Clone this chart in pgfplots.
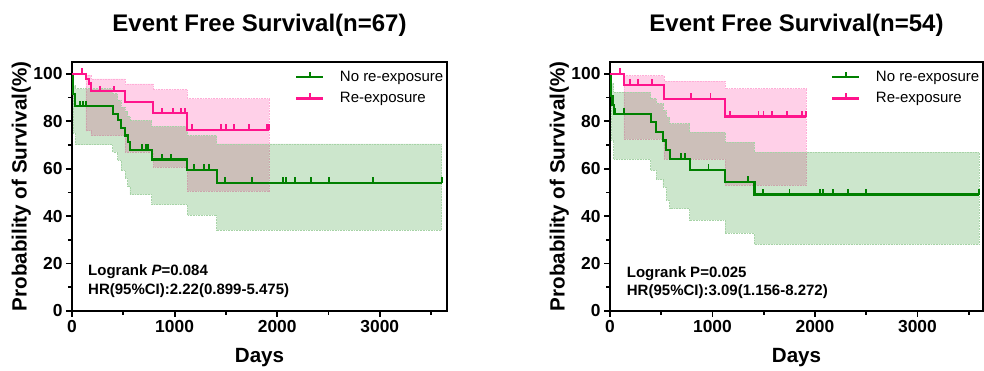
\documentclass[border=0pt]{standalone}
\usepackage{fontspec}
\setmainfont{Liberation Sans}
\usepackage{pgfplots}
\pgfplotsset{compat=1.18}
\definecolor{gline}{RGB}{0,128,0}
\definecolor{pline}{RGB}{255,20,140}
\pgfdeclareplotmark{cens}{\pgfpathmoveto{\pgfqpoint{0pt}{0pt}}\pgfpathlineto{\pgfqpoint{0pt}{\pgfplotmarksize}}\pgfusepathqstroke}
\pgfplotsset{
  km/.style={
    scale only axis, height=249pt, xmin=0, ymin=0, ymax=105,
    clip mode=individual,
    xtick={0,1000,2000,3000}, ytick={0,20,40,60,80,100},
    minor xtick={500,1500,2500,3500}, minor ytick={10,30,50,70,90},
    tick align=outside, xtick pos=left, ytick pos=left,
    major tick length=6pt, minor tick length=4pt,
    every tick/.style={black, line width=1.8pt},
    axis line style={line width=1.8pt},
    tick label style={font=\fontsize{17.4}{20}\selectfont\bfseries},
    /pgf/number format/assume math mode=true,
    /pgf/number format/1000 sep={},
    legend style={at={(axis description cs:1,1)}, anchor=north east, draw=none, fill=none,
      inner xsep=2pt, inner ysep=7pt, row sep=7pt,
      font=\fontsize{15}{18}\selectfont, nodes={inner sep=1.5pt}},
    legend cell align=left,
  },
  pband/.style={fill=pline, fill opacity=0.2, draw=pline!35, line width=0.6pt, densely dotted, mark=none},
  gband/.style={fill=gline, fill opacity=0.2, draw=gline!35, line width=0.6pt, densely dotted, mark=none},
  curve/.style={const plot, line width=2.2pt, mark=none},
  cmark/.style={only marks, mark=cens, mark size=5.5pt, line width=1.8pt},
}
\newcommand{\glegend}{\addlegendimage{legend image code/.code={\draw[gline, line width=2.2pt] (0pt,0pt) -- (27pt,0pt); \draw[gline, line width=1.8pt] (13.5pt,0pt) -- (13.5pt,5pt); \path[draw=none] (0pt,0pt) -- (42pt,0pt);}}}
\newcommand{\plegend}{\addlegendimage{legend image code/.code={\draw[pline, line width=2.2pt] (0pt,0pt) -- (27pt,0pt); \draw[pline, line width=1.8pt] (13.5pt,0pt) -- (13.5pt,5pt); \path[draw=none] (0pt,0pt) -- (42pt,0pt);}}}
\begin{document}
\begin{tikzpicture}
% ---------------- left panel ----------------
\begin{axis}[km, at={(72pt,58pt)}, anchor=south west, width=375pt, xmax=3655]
\glegend \addlegendentry{No re-exposure}
\plegend \addlegendentry{Re-exposure}
% pink confidence band
\addplot[pband, forget plot] coordinates {
 (136,99.5) (185,99.5) (185,97.9) (517,97.9) (517,95.8) (793,95.8) (793,93.3) (1124,93.3) (1124,89.5) (1920,89.5)
 (1920,50.5) (1124,50.5) (1124,60.7) (793,60.7) (793,67) (517,67) (517,74) (185,74) (185,76) (136,76) (136,99.5)};
% green confidence band
\addplot[gband, forget plot] coordinates {
 (12,95) (32,95) (32,93.7) (396,93.7) (396,91.6) (445,91.6) (445,88.8) (478,88.8) (478,86) (517,86) (517,84) (543,84)
 (543,82) (565,82) (565,80.4) (777,80.4) (777,77.8) (1124,77.8) (1124,74) (1410,74) (1410,70.5) (3603,70.5)
 (3603,34.1) (1410,34.1) (1410,40.4) (1124,40.4) (1124,44.9) (777,44.9) (777,49.1) (565,49.1) (565,52.5) (543,52.5)
 (543,55.8) (517,55.8) (517,59.3) (478,59.3) (478,63.5) (445,63.5) (445,67) (396,67) (396,70.1) (32,70.1) (32,75) (12,75) (12,95)};
% curves
\addplot[curve, gline, forget plot] coordinates {
 (0,100) (5,95.7) (12,91.5) (32,86.4) (396,83.2) (445,80.4) (478,77.1) (517,74.0) (543,71.2) (565,68.0) (777,63.9) (1124,59.6) (1410,54.1) (3603,54.1)};
\addplot[curve, pline, forget plot] coordinates {
 (0,100) (136,97.8) (166,95.9) (185,92.7) (517,88.0) (793,83.4) (1124,76.4) (1920,76.4)};
% censor marks
\addplot[cmark, gline, forget plot] coordinates {
 (80,86.4) (108,86.4) (135,86.4) (679,68.0) (721,68.0) (744,68.0) (880,63.9) (962,63.9)
 (1186,59.6) (1290,59.6) (1332,59.6) (1491,54.1) (1755,54.1) (2053,54.1) (2086,54.1)
 (2177,54.1) (2326,54.1) (2508,54.1) (2937,54.1) (3603,54.1)};
\addplot[cmark, pline, forget plot] coordinates {
 (94,100) (273,92.7) (413,92.7) (874,83.4) (981,83.4) (1062,83.4) (1101,83.4)
 (1167,76.4) (1449,76.4) (1498,76.4) (1579,76.4) (1728,76.4) (1898,76.4) (1920,76.4)};
% texts
\node[anchor=base, yshift=30pt, font=\fontsize{24}{28}\selectfont\bfseries] at (axis description cs:0.5,1) {Event Free Survival(n=67)};
\node[anchor=base, yshift=-51.7pt, font=\fontsize{20.6}{24}\selectfont\bfseries] at (axis description cs:0.5,0) {Days};
\node[xshift=-45.3pt, rotate=90, anchor=base, font=\fontsize{20.6}{24}\selectfont\bfseries] at (axis description cs:0,0.5) {Probability of Survival(\%)};
\node[anchor=base west, inner sep=0pt, font=\fontsize{15}{18}\selectfont\bfseries] at (axis description cs:0.0427,0.1418) {Logrank \textit{P}=0.084};
\node[anchor=base west, inner sep=0pt, font=\fontsize{15}{18}\selectfont\bfseries] at (axis description cs:0.0427,0.067) {HR(95\%CI):2.22(0.899-5.475)};
\end{axis}
% ---------------- right panel ----------------
\begin{axis}[km, at={(610pt,58pt)}, anchor=south west, width=373pt, xmax=3640]
\glegend \addlegendentry{No re-exposure}
\plegend \addlegendentry{Re-exposure}
\addplot[pband, forget plot] coordinates {
 (136,99.3) (526,99.3) (526,96.9) (1124,96.9) (1124,93.7) (1913,93.7)
 (1913,53) (1124,53) (1124,64) (526,64) (526,72.6) (136,72.6) (136,99.3)};
\addplot[gband, forget plot] coordinates {
 (13,96) (36,96) (36,92.3) (397,92.3) (397,89.5) (452,89.5) (452,87.4) (517,87.4) (517,84.6) (549,84.6) (549,81.7)
 (582,81.7) (582,79) (777,79) (777,75.4) (1124,75.4) (1124,71.2) (1410,71.2) (1410,67) (3600,67)
 (3600,28.1) (1410,28.1) (1410,32.9) (1124,32.9) (1124,38.3) (777,38.3) (777,43.2) (582,43.2) (582,46.7) (549,46.7)
 (549,52.3) (517,52.3) (517,55.4) (452,55.4) (452,59.3) (397,59.3) (397,63.9) (36,63.9) (36,72) (13,72) (13,96)};
\addplot[curve, gline, forget plot] coordinates {
 (0,100) (5,94.4) (13,90.7) (25,87.0) (36,83.2) (397,79.6) (452,75.4) (517,71.9) (549,68.0) (582,64.2) (777,59.6) (1124,54.4) (1410,49.1) (3600,49.1)};
\addplot[curve, pline, forget plot] coordinates {
 (0,100) (136,95.4) (526,89.5) (1124,82.0) (1913,82.0)};
\addplot[cmark, gline, forget plot] coordinates {
 (45,83.2) (133,83.2) (689,64.2) (733,64.2) (962,59.6) (1345,54.4)
 (1491,49.1) (1751,49.1) (2047,49.1) (2079,49.1) (2177,49.1) (2323,49.1) (2502,49.1) (3600,49.1)};
\addplot[cmark, pline, forget plot] coordinates {
 (94,100) (192,95.4) (273,95.4) (412,95.4) (793,89.5) (981,89.5)
 (1173,82.0) (1449,82.0) (1498,82.0) (1579,82.0) (1728,82.0) (1874,82.0) (1913,82.0)};
\node[anchor=base, yshift=30pt, font=\fontsize{24}{28}\selectfont\bfseries] at (axis description cs:0.5,1) {Event Free Survival(n=54)};
\node[anchor=base, yshift=-51.7pt, font=\fontsize{20.6}{24}\selectfont\bfseries] at (axis description cs:0.5,0) {Days};
\node[xshift=-45.3pt, rotate=90, anchor=base, font=\fontsize{20.6}{24}\selectfont\bfseries] at (axis description cs:0,0.5) {Probability of Survival(\%)};
\node[anchor=base west, inner sep=0pt, font=\fontsize{15}{18}\selectfont\bfseries] at (axis description cs:0.0448,0.1365) {Logrank P=0.025};
\node[anchor=base west, inner sep=0pt, font=\fontsize{15}{18}\selectfont\bfseries] at (axis description cs:0.0448,0.063) {HR(95\%CI):3.09(1.156-8.272)};
\end{axis}
\path (0pt,0pt) rectangle (984pt,369pt);
\end{tikzpicture}
\end{document}
